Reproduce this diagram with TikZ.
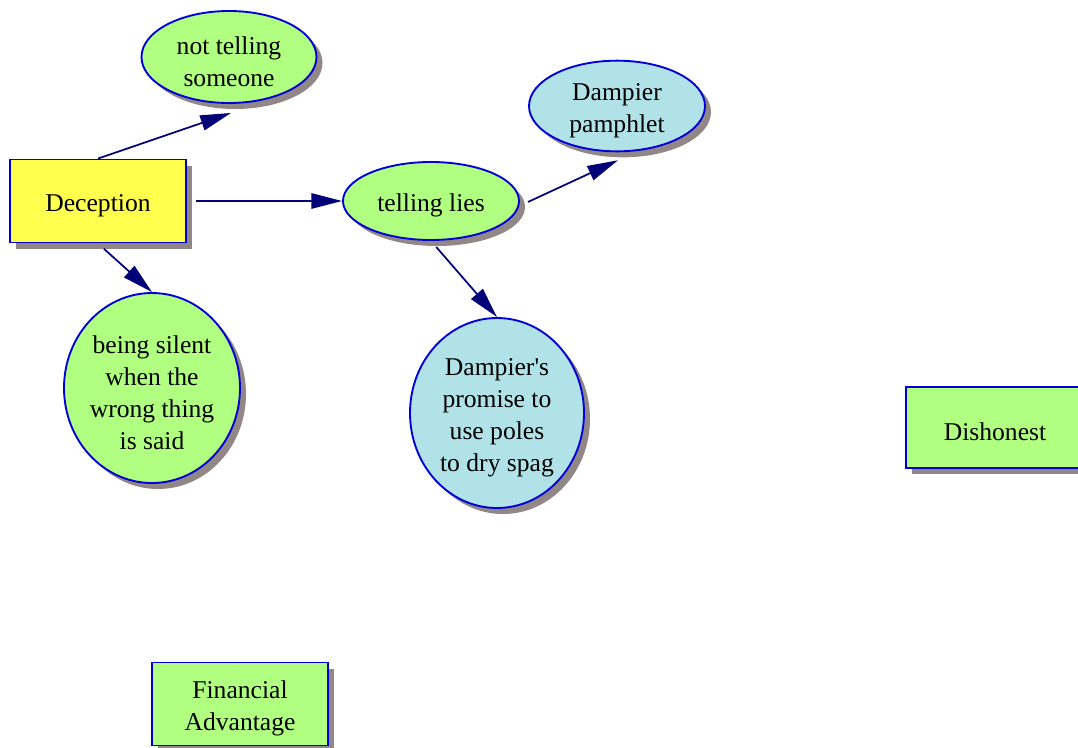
\documentclass[tikz,border=0pt]{standalone}
\usepackage{fontspec}
\setmainfont{Liberation Serif}
\usetikzlibrary{shapes.geometric,shadows,arrows.meta}
\definecolor{ngreen}{RGB}{176,255,128}
\definecolor{nblue}{RGB}{176,226,232}
\definecolor{nyellow}{RGB}{255,255,77}
\definecolor{nborder}{RGB}{0,0,215}
\definecolor{shgray}{RGB}{145,135,135}
\definecolor{arrnavy}{RGB}{0,0,120}
\newcommand\dnstrut{\rule{0pt}{20pt}}
\tikzset{
  base/.style={draw=nborder, line width=1.4pt, inner sep=0pt, align=center,
    font=\fontsize{19.2}{24}\selectfont,
    drop shadow={shadow xshift=4.5pt, shadow yshift=-4.5pt, fill=shgray, opacity=1}},
  oval/.style={base, ellipse},
  box/.style={base, rectangle},
  arr/.style={draw=arrnavy, line width=1.3pt, -{Triangle[length=23pt, width=11.5pt]}}
}
\begin{document}
\begin{tikzpicture}[x=0.75pt, y=-0.75pt]
\useasboundingbox (0,0) rectangle (1078,747);
\clip (0,0) rectangle (1078,747);
\node[box, fill=nyellow, minimum width=132pt, minimum height=62.25pt] (dec) at (98,201) {\dnstrut Deception};
\node[oval, fill=ngreen, minimum width=131.25pt, minimum height=69pt] (nts) at (229,57) {\dnstrut not telling\\someone};
\node[oval, fill=ngreen, minimum width=132pt, minimum height=58.5pt] (tl) at (431,201) {\dnstrut telling lies};
\node[oval, fill=nblue, minimum width=132pt, minimum height=64.5pt] (dp) at (617,106) {\dnstrut Dampier\\pamphlet};
\node[oval, fill=ngreen, minimum width=132pt, minimum height=142.5pt] (bs) at (152,388) {\dnstrut being silent\\when the\\wrong thing\\is said};
\node[oval, fill=nblue, minimum width=130.5pt, minimum height=142.5pt] (pr) at (497,413) {\dnstrut Dampier\textquotesingle s\\promise to\\use poles\\to dry spag};
\node[box, fill=ngreen, minimum width=133.5pt, minimum height=60.75pt] (dis) at (995,427.5) {\dnstrut Dishonest};
\node[box, fill=ngreen, minimum width=132pt, minimum height=62.25pt] (fin) at (240,704) {\dnstrut Financial\\Advantage};
\draw[arr] (dec.north) -- ([shift={(2,9)}]nts.south);
\draw[arr, shorten <=7pt] (dec.east) -- (tl.west);
\draw[arr, shorten <=6pt] (dec.south) -- (bs.north);
\draw[arr] ([shift={(8,1)}]tl.east) -- ([shift={(1,8)}]dp.south);
\draw[arr, shorten <=6pt] (tl.south) -- (pr.north);
\end{tikzpicture}
\end{document}
